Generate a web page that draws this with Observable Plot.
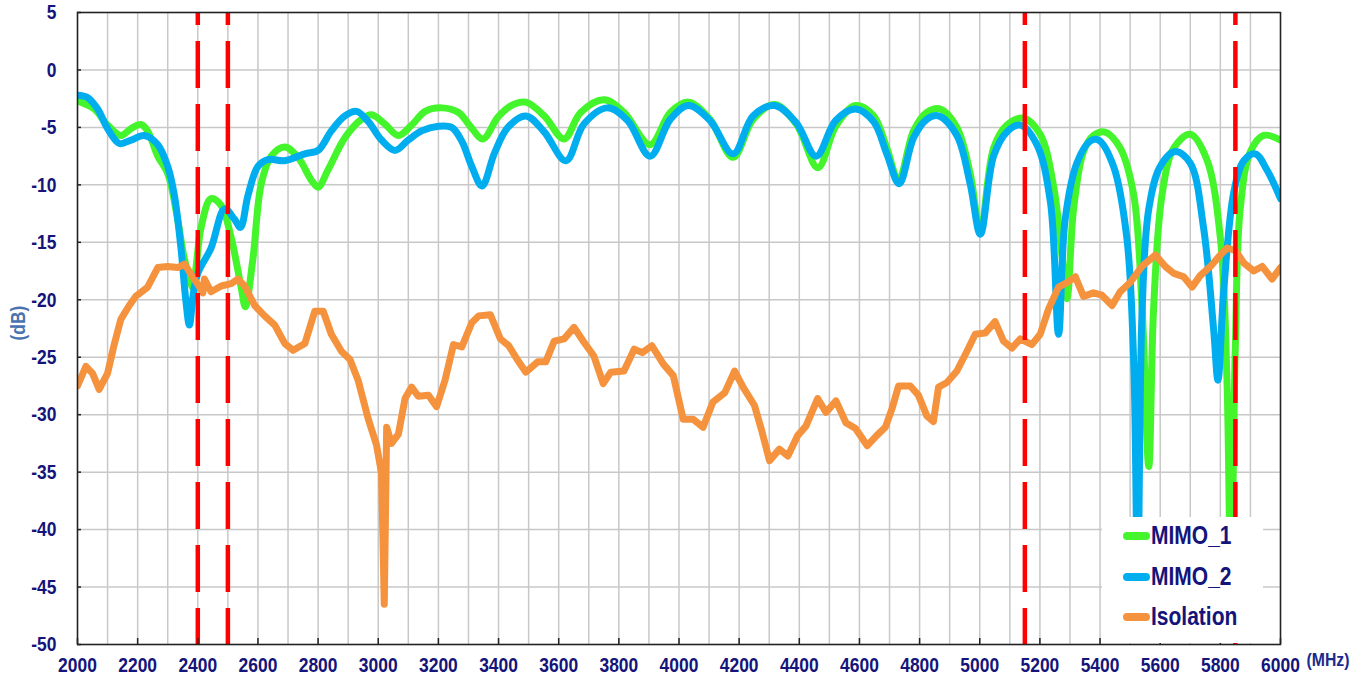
<!DOCTYPE html>
<html>
<head>
<meta charset="utf-8">
<script src="https://cdn.jsdelivr.net/npm/d3@7"></script>
<script src="https://cdn.jsdelivr.net/npm/@observablehq/plot@0.6"></script>
<style>
  html, body { margin: 0; padding: 0; background: #fff; }
  #wrap { position: relative; width: 1361px; height: 682px; overflow: hidden; }
  #legend { position: absolute; left: 1102px; top: 517px; width: 161px; height: 126px; background: #fff; }
  .row { position: absolute; left: 0; height: 30px; width: 161px; }
  .sw { position: absolute; left: 21px; top: 11px; width: 27px; height: 8px; border-radius: 4px; }
  .lab { position: absolute; left: 49px; top: 0; line-height: 30px; font: bold 25px "Liberation Sans", Arial, sans-serif; color: #14147a; white-space: nowrap; transform: scaleX(0.84); transform-origin: 0 50%; }
</style>
</head>
<body>
<div id="wrap"><div id="legend"></div></div>
<script>
// ---- data ----
const mimo1Freq = [2000,2056,2100,2144,2178,2211,2233,2267,2300,2333,2356,2385,2395,2411,2444,2478,2511,2544,2558,2583,2611,2644,2689,2733,2778,2800,2833,2889,2944,2978,3022,3067,3111,3156,3211,3267,3306,3348,3398,3442,3491,3552,3618,3673,3751,3817,3904,3971,4031,4103,4180,4246,4318,4390,4462,4521,4587,4647,4691,4730,4780,4824,4869,4924,4968,5002,5046,5090,5146,5201,5246,5273,5290,5312,5345,5378,5417,5467,5512,5540,5562,5578,5606,5645,5700,5755,5800,5822,5835,5850,5866,5900,5944,6000];
const mimo1Db = [-2.7,-3.4,-4.8,-5.7,-5.1,-4.75,-5.3,-7.5,-9,-13,-16.5,-19,-17,-13.7,-11.2,-11.8,-14.6,-18.9,-20.6,-16.5,-9.9,-7.5,-6.7,-7.6,-9.6,-10.2,-8.7,-5.9,-4.3,-3.9,-4.7,-5.7,-4.8,-3.6,-3.3,-3.7,-4.9,-6.0,-4.1,-3.1,-2.8,-4.0,-6.0,-3.7,-2.6,-3.7,-6.5,-3.7,-2.8,-4.3,-7.6,-4.3,-3.0,-4.7,-8.5,-4.9,-3.1,-4.0,-6.8,-9.6,-5.3,-3.7,-3.4,-5.0,-9.0,-14.0,-6.8,-4.8,-4.2,-5.6,-10.2,-16.1,-19.9,-12.1,-7.1,-5.7,-5.4,-6.8,-10.9,-20.8,-34.5,-20.8,-10.9,-6.8,-5.6,-7.8,-14.6,-27,-45,-23.9,-12.1,-7.1,-5.7,-6.1];

const mimo2Freq = [2000,2033,2067,2100,2139,2178,2222,2267,2300,2322,2344,2360,2372,2385,2400,2444,2489,2522,2542,2567,2600,2633,2689,2756,2800,2844,2889,2928,2967,3011,3056,3100,3144,3200,3244,3278,3311,3345,3387,3431,3491,3552,3624,3684,3762,3829,3904,3971,4031,4103,4180,4246,4318,4390,4456,4521,4587,4647,4691,4732,4780,4824,4863,4924,4968,5002,5046,5090,5135,5190,5235,5262,5284,5323,5367,5395,5445,5489,5512,5525,5540,5562,5600,5650,5700,5744,5778,5792,5811,5845,5878,5916,5955,6000];
const mimo2Db = [-2.2,-2.4,-3.4,-5.1,-6.4,-6.1,-5.7,-6.5,-8.4,-10.9,-15.5,-20.0,-22.2,-19.5,-17.7,-15.5,-12.1,-13,-13.7,-10.9,-8.4,-7.8,-7.9,-7.3,-7.0,-5.3,-4.0,-3.6,-4.5,-6.1,-7.0,-6.1,-5.3,-4.9,-5.0,-6.2,-8.4,-10.1,-7.2,-5.0,-4.0,-5.4,-7.9,-4.7,-3.3,-4.4,-7.5,-4.3,-3.1,-4.4,-7.3,-4.0,-3.1,-4.6,-7.5,-4.4,-3.4,-4.5,-7.3,-9.9,-5.9,-4.3,-4.0,-5.7,-9.9,-14.3,-7.5,-5.4,-4.8,-6.5,-11.5,-23,-13,-8.1,-6.2,-6.1,-8.4,-14.6,-25.5,-45,-20.8,-12.1,-8.4,-7.1,-8.1,-13.7,-22.7,-27,-19.3,-10.6,-7.9,-7.3,-8.7,-11.2];

const isoFreq = [2000,2028,2050,2072,2100,2122,2144,2172,2194,2233,2267,2300,2333,2356,2383,2406,2417,2422,2444,2478,2511,2533,2556,2589,2622,2656,2689,2717,2756,2789,2817,2844,2878,2906,2933,2967,2994,3011,3020,3028,3044,3067,3089,3111,3133,3167,3194,3222,3250,3278,3311,3334,3373,3406,3434,3462,3491,3530,3557,3585,3618,3651,3684,3717,3748,3773,3817,3851,3878,3910,3948,3981,4014,4047,4080,4113,4152,4185,4213,4251,4273,4301,4334,4362,4395,4422,4461,4489,4522,4555,4587,4626,4658,4686,4708,4730,4769,4796,4824,4846,4863,4891,4924,4957,4985,5018,5051,5079,5107,5135,5173,5201,5229,5262,5290,5318,5345,5378,5406,5440,5467,5500,5539,5584,5617,5645,5678,5706,5733,5767,5800,5822,5850,5878,5911,5939,5972,6000];
const isoDb = [-27.5,-25.8,-26.4,-27.8,-26.4,-23.9,-21.7,-20.5,-19.7,-18.9,-17.2,-17.1,-17.2,-16.9,-18.0,-18.9,-19.4,-18.2,-19.3,-18.8,-18.6,-18.2,-18.8,-20.5,-21.4,-22.2,-23.8,-24.4,-23.8,-21.0,-21.0,-23.0,-24.5,-25.2,-27.0,-30.4,-32.6,-35.1,-46.5,-31.1,-32.5,-31.7,-28.6,-27.6,-28.4,-28.3,-29.3,-27.0,-23.9,-24.1,-22.0,-21.4,-21.3,-23.4,-24.0,-25.2,-26.3,-25.4,-25.4,-23.6,-23.4,-22.4,-23.7,-24.9,-27.3,-26.3,-26.2,-24.3,-24.6,-24.0,-25.6,-26.6,-30.4,-30.4,-31.1,-28.9,-28.1,-26.2,-27.6,-29.2,-31.2,-34.0,-33.0,-33.6,-31.8,-31.0,-28.6,-29.8,-28.8,-30.7,-31.2,-32.7,-31.8,-31.1,-29.5,-27.5,-27.5,-28.3,-30.1,-30.6,-27.6,-27.2,-26.2,-24.5,-23.0,-22.9,-21.9,-23.6,-24.2,-23.4,-23.9,-23.0,-20.8,-18.9,-18.5,-18.0,-19.7,-19.4,-19.6,-20.5,-19.3,-18.5,-17.1,-16.1,-17.1,-17.7,-18.0,-18.9,-17.9,-17.1,-16.1,-15.5,-15.7,-16.8,-17.5,-17.1,-18.2,-17.2];

const bandEdges = [2400, 2500, 5150, 5850];
const xTicks = [2000,2200,2400,2600,2800,3000,3200,3400,3600,3800,4000,4200,4400,4600,4800,5000,5200,5400,5600,5800,6000];
const yTicks = [5,0,-5,-10,-15,-20,-25,-30,-35,-40,-45,-50];
const seriesNames = ["MIMO_1", "MIMO_2", "Isolation"];
const seriesColors = ["#44f52c", "#00aeef", "#f5923e"];
const xUnit = "(MHz)";
const yUnit = "(dB)";

// ---- build ----
const toRows = (fs, vs) => fs.map((f, i) => ({f, v: vs[i]}));
const s1 = toRows(mimo1Freq, mimo1Db);
const s2 = toRows(mimo2Freq, mimo2Db);
const s3 = toRows(isoFreq, isoDb);

const FONT = '"Liberation Sans", Arial, sans-serif';
const NAVY = "#14147a";
const lineOpts = {x: "f", y: "v", strokeWidth: 7, clip: true, strokeLinejoin: "round", strokeLinecap: "round"};
const noLabel = () => "";

const chart = Plot.plot({
  width: 1361, height: 682,
  marginLeft: 77, marginRight: 81, marginTop: 12, marginBottom: 38,
  x: {domain: [2000, 6000]},
  y: {domain: [-50, 5]},
  style: {background: "#fff", fontFamily: FONT, overflow: "hidden"},
  marks: [
    Plot.gridX(d3.range(2000, 6001, 100), {stroke: "#c8c8c8", strokeOpacity: 1, strokeWidth: 1.5}),
    Plot.gridY(yTicks, {stroke: "#c8c8c8", strokeOpacity: 1, strokeWidth: 1.5}),
    Plot.line(s1, {...lineOpts, stroke: seriesColors[0], curve: "catmull-rom"}),
    Plot.line(s2, {...lineOpts, stroke: seriesColors[1], curve: "catmull-rom"}),
    Plot.line(s3, {...lineOpts, stroke: seriesColors[2], curve: "linear"}),
    Plot.ruleX(bandEdges, {stroke: "#ff0000", strokeWidth: 4.5, strokeDasharray: "47,16", strokeDashoffset: 34}),
    Plot.frame({stroke: "#222", strokeWidth: 1.5}),
    Plot.axisX(xTicks, {tickSize: -6, stroke: "#222", strokeWidth: 1.5, tickFormat: noLabel, label: null}),
    Plot.axisY(yTicks, {anchor: "left", tickSize: -4, stroke: "#222", strokeWidth: 1.5, tickFormat: noLabel, label: null}),
    Plot.axisY(yTicks, {tickSize: 0, tickPadding: 21, tickFormat: d => String(d), fontSize: 21, fontWeight: "bold", fill: NAVY, label: null}),
    Plot.axisX(xTicks, {tickSize: 0, tickPadding: 13, tickFormat: d => String(d), fontSize: 21, fontWeight: "bold", fill: NAVY, label: null}),
    Plot.text([yUnit], {frameAnchor: "left", dx: -59, dy: 12, rotate: -90, fontSize: 21, fontWeight: "bold", fill: "#4a72b0"}),
    Plot.text([xUnit], {frameAnchor: "bottom-right", dx: 26, dy: 21, textAnchor: "start", fontSize: 19, fontWeight: "bold", fill: "#1c2a8a"})
  ]
});

const wrap = document.getElementById("wrap");
wrap.insertBefore(chart, wrap.firstChild);

// condense the labels horizontally (bold narrow look) without moving their anchors
chart.querySelectorAll("text").forEach(t => {
  if (!t.textContent) return;
  const w = t.getComputedTextLength();
  if (w > 0) {
    t.setAttribute("textLength", (w * 0.83).toFixed(1));
    t.setAttribute("lengthAdjust", "spacingAndGlyphs");
  }
});

// ---- legend ----
const legend = document.getElementById("legend");
const rowTops = [4, 45, 85];
seriesNames.forEach((name, i) => {
  const row = document.createElement("div");
  row.className = "row";
  row.style.top = rowTops[i] + "px";
  const sw = document.createElement("div");
  sw.className = "sw";
  sw.style.background = seriesColors[i];
  const lab = document.createElement("div");
  lab.className = "lab";
  lab.textContent = name;
  row.appendChild(sw);
  row.appendChild(lab);
  legend.appendChild(row);
});
</script>
</body>
</html>
